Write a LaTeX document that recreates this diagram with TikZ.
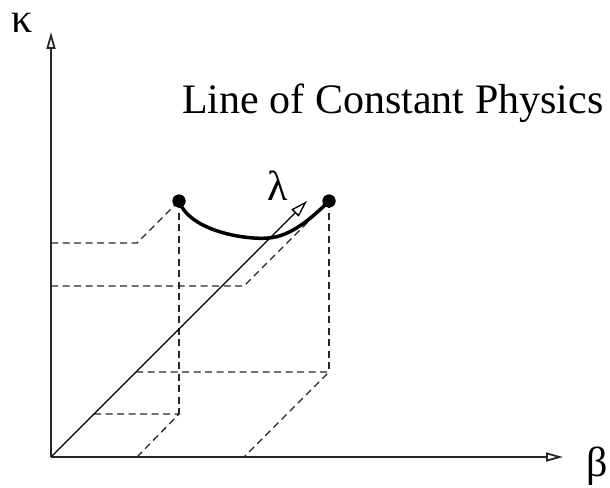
\documentclass[tikz,border=0pt]{standalone}
\usepackage{fontspec}
\setmainfont{Liberation Serif}
\usetikzlibrary{arrows.meta}
\begin{document}
\begin{tikzpicture}[x=1pt,y=-1pt,
  axis/.style={line width=1.8pt, draw=black!85, -{Triangle[open,length=17pt,width=9pt]}},
  diag/.style={line width=1.3pt, draw=black, -{Triangle[open,length=17pt,width=10pt]}},
  guide/.style={line width=1.3pt, dash pattern=on 7pt off 4.5pt, draw=black!85},
  lcp/.style={line width=3.5pt, draw=black, line cap=round},
  dot/.style={circle, fill=black, inner sep=0pt, minimum size=13pt},
  lbl/.style={font=\fontsize{42}{42}\selectfont, inner sep=0pt}]
\useasboundingbox (0,0) rectangle (610,487);
% axes
\coordinate (O) at (51,457);
\coordinate (ytip) at (51,32);
\coordinate (xtip) at (563,457);
\coordinate (ltip) at (307,201);
% points
\node[dot] (L) at (179,201) {};
\node[dot] (R) at (329,201) {};
% projection corners, left point
\coordinate (a1) at (179,414);
\coordinate (a2) at (94,414);
\coordinate (a3) at (137,457);
\coordinate (a4) at (51,243);
\coordinate (a5) at (137,243);
% projection corners, right point
\coordinate (b1) at (329,372);
\coordinate (b2) at (136,372);
\coordinate (b3) at (244,457);
\coordinate (b4) at (51,286);
\coordinate (b5) at (244,286);
% dashed guides
\draw[guide] (L.center) -- (a1);
\draw[guide] (a2) -- (a1) -- (a3);
\draw[guide] (a4) -- (a5) -- (L.center);
\draw[guide] (R.center) -- (b1);
\draw[guide] (b2) -- (b1) -- (b3);
\draw[guide] (b4) -- (b5) -- (R.center);
% axes
\draw[axis] (O) -- (ytip);
\draw[axis] (O) -- (xtip);
\draw[diag] (O) -- (ltip);
% line of constant physics
\draw[lcp] (L.center) .. controls (190,232) and (248,240) .. (268,238)
  .. controls (290,237) and (312,218) .. (R.center);
\node[dot] at (L) {};
\node[dot] at (R) {};
% labels
\node[lbl] (kappa) at (22,23) {κ};
\node[lbl] (beta) at (597,466) {β};
\node[lbl] (lambda) at (278,186) {λ};
\node[lbl, anchor=base west] (title) at (182,113) {Line of Constant Physics};
\end{tikzpicture}
\end{document}
